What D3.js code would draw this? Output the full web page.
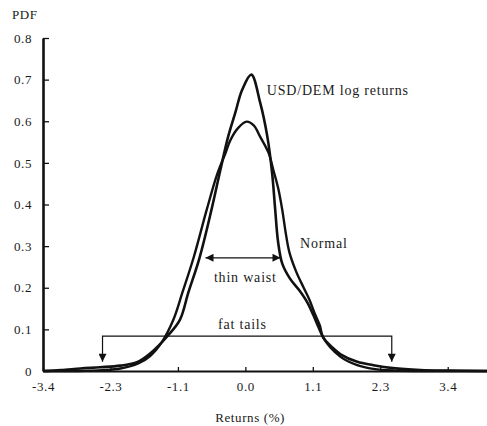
<!DOCTYPE html>
<html>
<head>
<meta charset="utf-8">
<script src="https://cdn.jsdelivr.net/npm/d3@7"></script>
<style>
  body { margin: 0; background: #fff; }
  svg text { font-family: "Liberation Serif", "DejaVu Serif", serif; fill: #1a1a1a; }
</style>
</head>
<body>
<svg width="487" height="426"></svg>
<script>
// values
const usdReturns = [-3.4, -3.1, -2.77, -2.44, -2.1, -1.82, -1.6, -1.31, -1.1, -0.96, -0.77, -0.57, -0.42, -0.29, -0.17, -0.055, 0.1, 0.25, 0.37, 0.45, 0.5, 0.55, 0.62, 0.75, 0.9, 1.04, 1.14, 1.23, 1.31, 1.45, 1.6, 1.88, 2.15, 2.48, 2.94, 3.4, 4.06];
const usdPdf     = [0, 0.002, 0.006, 0.009, 0.013, 0.021, 0.042, 0.084, 0.123, 0.1875, 0.272, 0.387, 0.483, 0.5625, 0.62, 0.675, 0.712, 0.644, 0.5625, 0.475, 0.39, 0.31, 0.258, 0.222, 0.195, 0.165, 0.135, 0.105, 0.08, 0.058, 0.04, 0.022, 0.014, 0.007, 0.0025, 0.001, 0];

const normalReturns = [-3.4, -2.8, -2.4, -2.1, -1.8, -1.6, -1.4, -1.21, -1.06, -0.87, -0.65, -0.48, -0.33, -0.25, -0.12, 0.02, 0.14, 0.25, 0.39, 0.47, 0.55, 0.62, 0.68, 0.74, 0.85, 0.98, 1.08, 1.16, 1.25, 1.31, 1.6, 1.88, 2.15, 2.5, 3.0, 4.06];
const normalPdf     = [0, 0, 0.002, 0.006, 0.018, 0.036, 0.07, 0.123, 0.1875, 0.272, 0.387, 0.47, 0.525, 0.555, 0.584, 0.599, 0.59, 0.5625, 0.524, 0.483, 0.44, 0.387, 0.33, 0.285, 0.24, 0.2, 0.17, 0.14, 0.11, 0.08, 0.034, 0.014, 0.005, 0.001, 0, 0];

const xTickValues = [-3.4, -2.267, -1.133, 0, 1.133, 2.267, 3.4];
const xTickLabels = ['-3.4', '-2.3', '-1.1', '0.0', '1.1', '2.3', '3.4'];
const yTickValues = [0, 0.1, 0.2, 0.3, 0.4, 0.5, 0.6, 0.7, 0.8];

const svg = d3.select('svg');
const width = +svg.attr('width');
const height = +svg.attr('height');
const margin = { top: 38, right: 0, bottom: 55, left: 43 };
const innerW = width - margin.left - margin.right;
const innerH = height - margin.top - margin.bottom;

const x = d3.scaleLinear().domain([-3.4, 4.06]).range([0, innerW]);
const y = d3.scaleLinear().domain([0, 0.8]).range([innerH, 0]);

const g = svg.append('g').attr('transform', `translate(${margin.left},${margin.top})`);

// arrow head
svg.append('defs').append('marker')
    .attr('id', 'head')
    .attr('viewBox', '0 0 10 10')
    .attr('refX', 10).attr('refY', 5)
    .attr('markerWidth', 9).attr('markerHeight', 8)
    .attr('markerUnits', 'userSpaceOnUse')
    .attr('orient', 'auto-start-reverse')
  .append('path')
    .attr('d', 'M0,0L10,5L0,10z')
    .attr('fill', '#111');

// axes
const xAxis = g.append('g')
    .attr('transform', `translate(0,${innerH})`)
    .call(d3.axisBottom(x).tickValues(xTickValues)
        .tickFormat((d, i) => xTickLabels[i])
        .tickSizeInner(-4).tickSizeOuter(0).tickPadding(11));
const yAxis = g.append('g')
    .call(d3.axisLeft(y).tickValues(yTickValues)
        .tickFormat(d => d === 0 ? '0' : d.toFixed(1))
        .tickSizeInner(-6).tickSizeOuter(0).tickPadding(11));

xAxis.select('.domain').attr('stroke', '#111').attr('stroke-width', 2);
yAxis.select('.domain').attr('stroke', '#111').attr('stroke-width', 2.6);
g.selectAll('.tick line').attr('stroke', '#111').attr('stroke-width', 1.3);
g.selectAll('.tick text')
    .attr('font-family', '"Liberation Serif", serif')
    .attr('font-size', 13)
    .attr('letter-spacing', 0.6)
    .attr('fill', '#1a1a1a');

// curves
const line = d3.line()
    .x(d => x(d[0]))
    .y(d => y(d[1]))
    .curve(d3.curveCatmullRom.alpha(0.5));

g.append('path')
    .datum(d3.zip(normalReturns, normalPdf))
    .attr('d', line)
    .attr('fill', 'none')
    .attr('stroke', '#111')
    .attr('stroke-width', 2.4);

g.append('path')
    .datum(d3.zip(usdReturns, usdPdf))
    .attr('d', line)
    .attr('fill', 'none')
    .attr('stroke', '#111')
    .attr('stroke-width', 2.6);

// thin waist arrow
g.append('line')
    .attr('x1', x(-0.67)).attr('x2', x(0.59))
    .attr('y1', y(0.272)).attr('y2', y(0.272))
    .attr('stroke', '#111').attr('stroke-width', 1.2)
    .attr('marker-start', 'url(#head)')
    .attr('marker-end', 'url(#head)');

// fat tails bracket
g.append('path')
    .attr('d', `M${x(-2.4)},${y(0.022)}V${y(0.084)}H${x(2.46)}V${y(0.022)}`)
    .attr('fill', 'none')
    .attr('stroke', '#111').attr('stroke-width', 1.2)
    .attr('marker-start', 'url(#head)')
    .attr('marker-end', 'url(#head)');

// labels
const label = (txt, px, py, anchor) => g.append('text')
    .attr('x', px).attr('y', py)
    .attr('text-anchor', anchor)
    .attr('font-size', 14)
    .attr('letter-spacing', 0.8)
    .text(txt);

label('USD/DEM log returns', x(0.36), y(0.663), 'start');
label('Normal', x(0.92), y(0.296), 'start');
label('thin waist', x(0.0), y(0.214), 'middle');
label('fat tails', x(-0.05), y(0.101), 'middle');

svg.append('text')
    .attr('x', 12).attr('y', 19)
    .attr('font-size', 13)
    .attr('letter-spacing', 0.6)
    .text('PDF');

svg.append('text')
    .attr('x', margin.left + x(0.08)).attr('y', 422)
    .attr('text-anchor', 'middle')
    .attr('font-size', 13)
    .attr('letter-spacing', 0.6)
    .text('Returns (%)');
</script>
</body>
</html>
